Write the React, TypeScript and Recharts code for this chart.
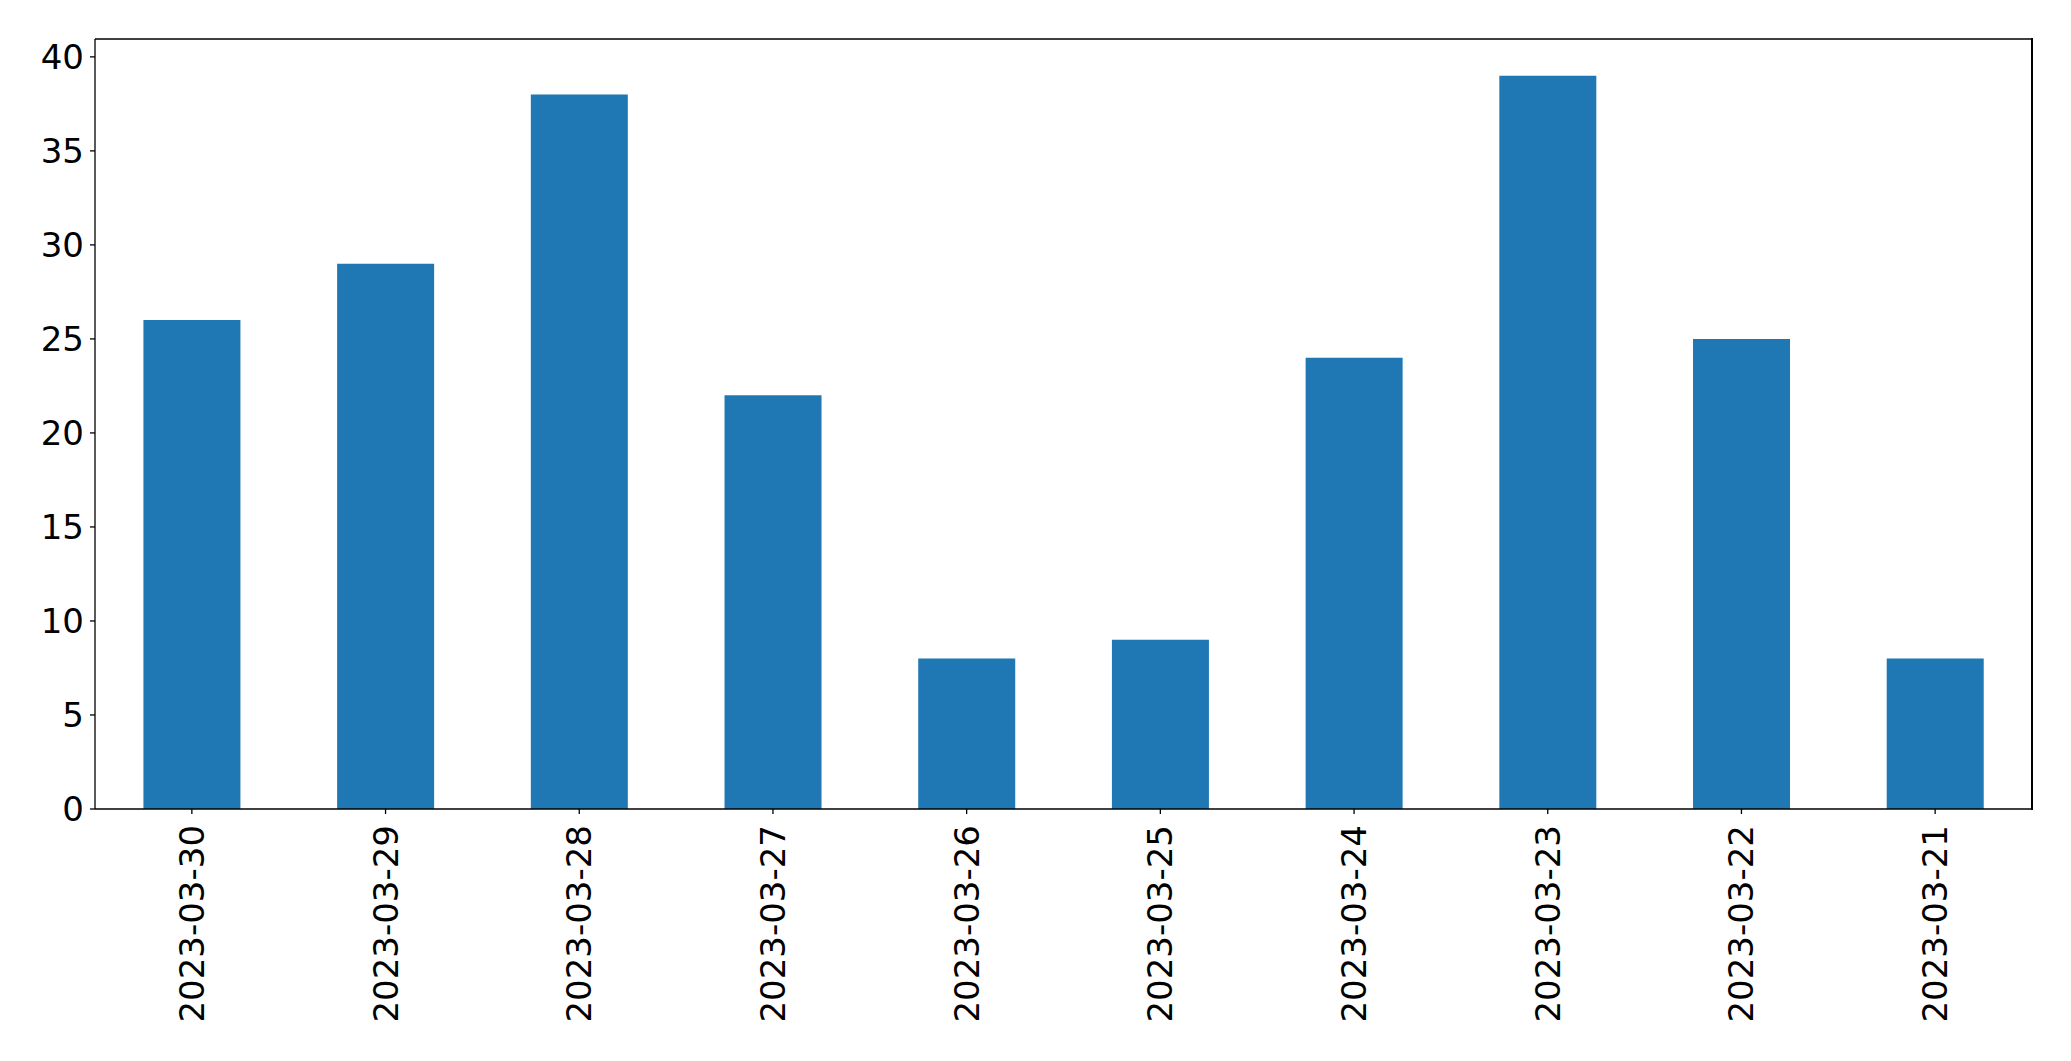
import { BarChart, Bar, XAxis, YAxis, ReferenceLine } from "recharts";

const DATES = ["2023-03-30","2023-03-29","2023-03-28","2023-03-27","2023-03-26","2023-03-25","2023-03-24","2023-03-23","2023-03-22","2023-03-21"];
const COUNTS = [26, 29, 38, 22, 8, 9, 24, 39, 25, 8];
const Y_TICKS = [0, 5, 10, 15, 20, 25, 30, 35, 40];
const Y_MAX = 40.95;

const FONT = "DejaVu Sans";
const FS = 34;

function XTick(props: any) {
  const { x, y, payload } = props;
  return (
    <text x={x} y={y + 9} transform={`rotate(-90 ${x} ${y + 9})`} textAnchor="end" dominantBaseline="central"
      fontFamily={FONT} fontSize={FS} fill="#000">{payload.value}</text>
  );
}

function YTick(props: any) {
  const { x, y, payload } = props;
  return (
    <text x={x} y={y} dy="0.36em" textAnchor="end" fontFamily={FONT} fontSize={FS} fill="#000">{payload.value}</text>
  );
}

export default function App() {
  const d = DATES.map((date, i) => ({ date, count: COUNTS[i] }));
  return (
    <div style={{ position: "absolute", left: 0, top: 0, width: 2071, height: 1061, background: "#fff" }}>
      <BarChart width={2071} height={1061} data={d} margin={{ top: 39, right: 39, left: 0, bottom: 0 }} barCategoryGap="25%">
        <XAxis dataKey="date" tick={<XTick/>} tickSize={5} tickLine={{ stroke: "#000", strokeWidth: 1.3 }}
          axisLine={{ stroke: "#000", strokeWidth: 1.3 }} height={252} interval={0}/>
        <YAxis domain={[0, Y_MAX]} ticks={Y_TICKS} tick={<YTick/>} tickSize={5} tickMargin={6} width={95}
          tickLine={{ stroke: "#000", strokeWidth: 1.3 }} axisLine={{ stroke: "#000", strokeWidth: 1.3 }} allowDataOverflow/>
        <Bar dataKey="count" fill="#1f77b4" isAnimationActive={false}/>
        <ReferenceLine y={Y_MAX} stroke="#000" strokeWidth={1.3}/>
      </BarChart>
      {/* right frame edge */}
      <div style={{ position: "absolute", left: 2031.35, top: 38.35, width: 1.3, height: 771.3, background: "#000", pointerEvents: "none" }}/>
    </div>
  );
}
